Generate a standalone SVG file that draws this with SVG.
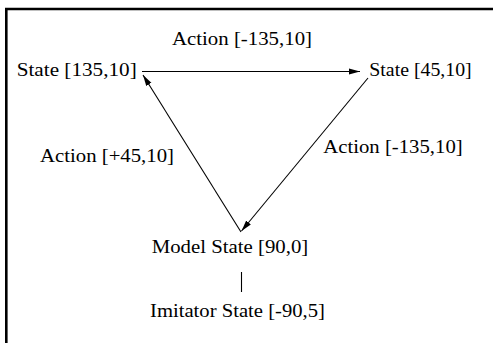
<svg xmlns="http://www.w3.org/2000/svg" width="493" height="343" viewBox="0 0 493 343">
<defs>
<style>
.t{font-family:'Liberation Serif','Times New Roman',serif;font-size:18px;fill:#000}
.c{stroke:#000;stroke-width:1.1;fill:none}
</style>
<marker id="ah" markerUnits="userSpaceOnUse" markerWidth="12" markerHeight="8" refX="11" refY="3" orient="auto" viewBox="0 0 12 6">
<path d="M0,0 L11,3 L0,6 z" fill="#000"/>
</marker>
</defs>
<rect width="493" height="343" fill="#fff"/>
<path d="M6.3,346 V9 H496" fill="none" stroke="#000" stroke-width="2.6"/>
<g id="connectors">
<line class="c" x1="142" y1="71.5" x2="360" y2="71.5" marker-end="url(#ah)"/>
<line class="c" x1="241" y1="232" x2="143" y2="75" marker-end="url(#ah)"/>
<line class="c" x1="368" y1="78" x2="241.5" y2="231" marker-end="url(#ah)"/>
<line class="c" x1="241.5" y1="272" x2="241.5" y2="292"/>
</g>
<g id="label-top"><text class="t" x="172" y="45" textLength="140" lengthAdjust="spacingAndGlyphs">Action [-135,10]</text></g>
<g id="state-135"><text class="t" x="16.7" y="76" textLength="120" lengthAdjust="spacingAndGlyphs">State [135,10]</text></g>
<g id="state-45"><text class="t" x="369.3" y="76" textLength="102.4" lengthAdjust="spacingAndGlyphs">State [45,10]</text></g>
<g id="label-left"><text class="t" x="40" y="161.7" textLength="134" lengthAdjust="spacingAndGlyphs">Action [+45,10]</text></g>
<g id="label-right"><text class="t" x="323.3" y="152.7" textLength="139.4" lengthAdjust="spacingAndGlyphs">Action [-135,10]</text></g>
<g id="model-state"><text class="t" x="151.7" y="253.3" textLength="156.6" lengthAdjust="spacingAndGlyphs">Model State [90,0]</text></g>
<g id="imitator-state"><text class="t" x="150" y="316.7" textLength="175" lengthAdjust="spacingAndGlyphs">Imitator State [-90,5]</text></g>
</svg>
